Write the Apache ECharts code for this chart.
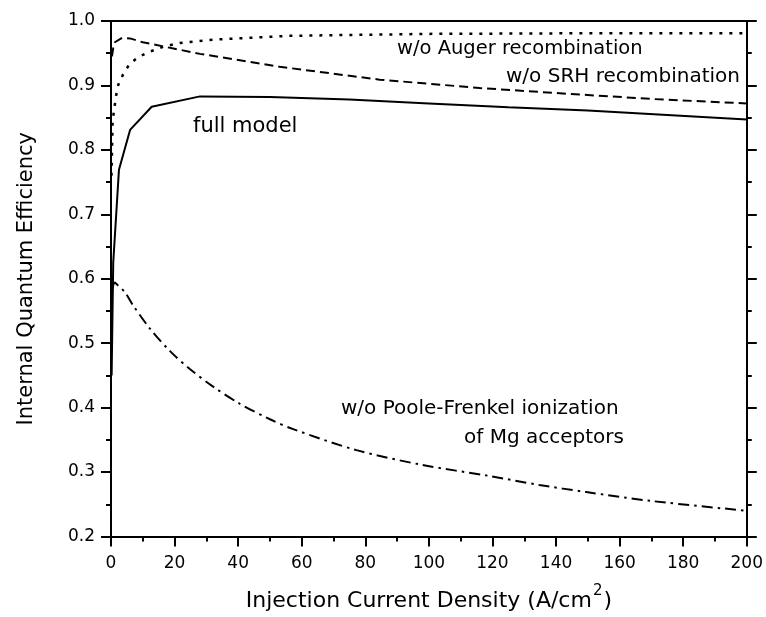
<!DOCTYPE html>
<html>
<head>
<meta charset="utf-8">
<script src="https://cdn.jsdelivr.net/npm/echarts@6/dist/echarts.min.js"></script>
<style>
  html, body { margin: 0; padding: 0; background: #fff; }
  #chart { width: 766px; height: 617px; }
</style>
</head>
<body>
<div id="chart"></div>
<script>
// Injection current density (A/cm^2) and IQE for each simulation case
const xFull = [0.2, 0.7, 2.5, 6.0, 12.8, 28, 50, 75, 100, 125, 150, 175, 200];
const yFull = [0.45, 0.625, 0.769, 0.831, 0.867, 0.883, 0.882, 0.878, 0.872, 0.866, 0.861, 0.854, 0.847];

const xNoSRH = [0.3, 0.7, 1.2, 3.5, 6, 10, 20, 28, 53, 84.5, 116, 144, 170, 200];
const yNoSRH = [0.945, 0.958, 0.967, 0.974, 0.973, 0.967, 0.957, 0.949, 0.929, 0.909, 0.896, 0.887, 0.879, 0.872];

const xNoAuger = [0.15, 0.5, 1.6, 2.3, 3.7, 5.8, 8.6, 12, 16.4, 21.7, 32, 56, 100, 150, 200];
const yNoAuger = [0.76, 0.845, 0.884, 0.901, 0.916, 0.933, 0.944, 0.952, 0.960, 0.966, 0.971, 0.977, 0.980, 0.981, 0.981];

const xNoPF = [0.5, 1.2, 1.9, 4.4, 6.9, 12.2, 18.5, 24.8, 32.0, 40.5, 50.0, 57.1, 77.2, 98.0, 119.0, 134.7, 149.5, 170.2, 200];
const yNoPF = [0.585, 0.594, 0.591, 0.579, 0.559, 0.523, 0.488, 0.460, 0.433, 0.406, 0.382, 0.367, 0.334, 0.311, 0.294, 0.280, 0.269, 0.255, 0.240];

// Axis ranges and ticks
const xMin = 0, xMax = 200, xStep = 20;
const yMin = 0.2, yMax = 1.0, yStep = 0.1;

const FONT = 'DejaVu Sans';
const pairs = (xs, ys) => xs.map((x, i) => [x, ys[i]]);

const tickStyle = { show: true, inside: false, length: 10, lineStyle: { color: '#000', width: 2 } };
const minorStyle = { show: true, splitNumber: 2, length: 5, lineStyle: { color: '#000', width: 2 } };
const lineAxis = { show: true, onZero: false, lineStyle: { color: '#000', width: 2 } };

function curve(name, xs, ys, type, width, smooth) {
  return {
    name: name,
    type: 'line',
    data: pairs(xs, ys),
    showSymbol: false,
    symbol: 'none',
    smooth: smooth,
    lineStyle: { color: '#000', width: width, type: type },
    animation: false,
    z: 3
  };
}

const chart = echarts.init(document.getElementById('chart'), null, { renderer: 'canvas' });

chart.setOption({
  backgroundColor: '#fff',
  animation: false,
  grid: { left: 111, right: 18, top: 21, bottom: 79 },
  xAxis: [
    {
      type: 'value', position: 'bottom', min: xMin, max: xMax, interval: xStep,
      axisLine: lineAxis, axisTick: tickStyle, minorTick: minorStyle,
      splitLine: { show: false },
      axisLabel: { color: '#000', fontFamily: FONT, fontSize: 17, margin: 19 },
      name: 'Injection Current Density (A/cm{sup|2})',
      nameLocation: 'middle', nameGap: 47,
      nameTextStyle: {
        color: '#000', fontFamily: FONT, fontSize: 22,
        rich: { sup: { fontFamily: FONT, fontSize: 15, color: '#000', verticalAlign: 'top', padding: [0, 1, 20, 1] } }
      }
    },
    {
      type: 'value', position: 'top', min: xMin, max: xMax, interval: xStep,
      axisLine: lineAxis, axisTick: { show: false }, axisLabel: { show: false },
      splitLine: { show: false }
    }
  ],
  yAxis: [
    {
      type: 'value', position: 'left', min: yMin, max: yMax, interval: yStep,
      axisLine: lineAxis, axisTick: tickStyle, minorTick: minorStyle,
      splitLine: { show: false },
      axisLabel: {
        color: '#000', fontFamily: FONT, fontSize: 17, margin: 16,
        formatter: v => v.toFixed(1)
      },
      name: 'Internal Quantum Efficiency',
      nameLocation: 'middle', nameGap: 74,
      nameTextStyle: { color: '#000', fontFamily: FONT, fontSize: 21 }
    },
    {
      type: 'value', position: 'right', min: yMin, max: yMax, interval: yStep,
      axisLine: lineAxis, axisTick: tickStyle, minorTick: minorStyle,
      splitLine: { show: false }, axisLabel: { show: false }
    }
  ],
  series: [
    curve('full model', xFull, yFull, 'solid', 2, false),
    curve('w/o SRH recombination', xNoSRH, yNoSRH, [9, 5], 2, false),
    curve('w/o Auger recombination', xNoAuger, yNoAuger, [3, 7], 2.5, false),
    curve('w/o Poole-Frenkel ionization of Mg acceptors', xNoPF, yNoPF, [11, 5, 2.5, 5], 2, 0.3)
  ],
  graphic: [
    { type: 'text', left: 397, top: 39, style: { text: 'w/o Auger recombination', font: '19.5px ' + FONT, fill: '#000' } },
    { type: 'text', left: 506, top: 67, style: { text: 'w/o SRH recombination', font: '20px ' + FONT, fill: '#000' } },
    { type: 'text', left: 193, top: 116, style: { text: 'full model', font: '21px ' + FONT, fill: '#000' } },
    { type: 'text', left: 341, top: 399, style: { text: 'w/o Poole-Frenkel ionization', font: '20px ' + FONT, fill: '#000' } },
    { type: 'text', left: 464, top: 428, style: { text: 'of Mg acceptors', font: '20px ' + FONT, fill: '#000' } }
  ]
});
</script>
</body>
</html>
